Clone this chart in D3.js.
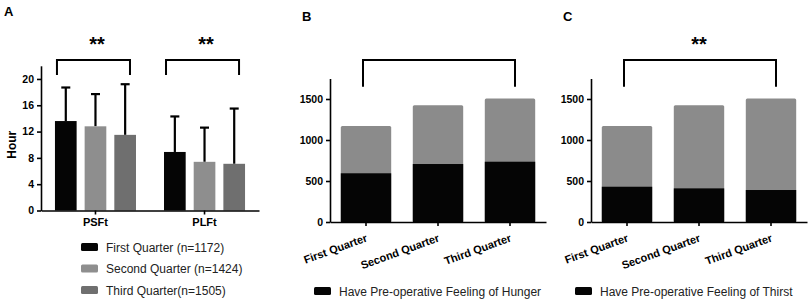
<!DOCTYPE html>
<html>
<head>
<meta charset="utf-8">
<script src="https://cdn.jsdelivr.net/npm/d3@7"></script>
<style>
  body { margin: 0; background: #fff; }
  svg { font-family: "Liberation Sans", Arial, sans-serif; }
</style>
</head>
<body>
<div id="container"></div>
<script>
/* DATA */
const groupsA = ["PSFt", "PLFt"];
const legendA = ["First Quarter (n=1172)", "Second Quarter (n=1424)", "Third Quarter(n=1505)"];
const meanPSFt = [13.6, 12.8, 11.5];
const sdPSFt = [5.1, 4.9, 7.7];
const meanPLFt = [8.9, 7.4, 7.1];
const sdPLFt = [5.4, 5.2, 8.4];
const yTicksA = [0, 4, 8, 12, 16, 20];

const quarters = ["First Quarter", "Second Quarter", "Third Quarter"];
const totals = [1172, 1424, 1505];
const hunger = [594, 707, 735];
const thirst = [430, 410, 390];
const yTicksBC = [0, 500, 1000, 1500];

/* CONSTANTS */
const width = 810, height = 301;
const colors = ["#050505", "#8e8e8e", "#6f6f6f"];

const svg = d3.select("#container").append("svg")
  .attr("width", width)
  .attr("height", height);

function styleAxis(g) {
  g.selectAll("path").attr("stroke", "#000").attr("stroke-width", 1.6);
  g.selectAll("line").attr("stroke", "#000").attr("stroke-width", 1.6);
  g.selectAll("text").attr("fill", "#000").attr("font-weight", "bold")
    .attr("font-size", 10.5).attr("font-family", "Liberation Sans, Arial, sans-serif");
}

function bracket(g, x1, x2, yTop, yBot) {
  g.append("path")
    .attr("d", `M${x1},${yBot}V${yTop}H${x2}V${yBot}`)
    .attr("fill", "none")
    .attr("stroke", "#000")
    .attr("stroke-width", 2);
}

function stars(g, x, y) {
  g.append("text")
    .attr("x", x).attr("y", y)
    .attr("text-anchor", "middle")
    .attr("font-weight", "bold")
    .attr("font-size", 20)
    .text("**");
}

/* PANEL A */
const a = svg.append("g");
const x0 = d3.scaleBand().domain(groupsA).range([41, 259])
  .paddingInner(0.257).paddingOuter(0.128);
const x1 = d3.scaleBand().domain(d3.range(3)).range([0, x0.bandwidth()]).paddingInner(0.27);
const yA = d3.scaleLinear().domain([0, 22]).range([210.5, 65.8]);

const rowsA = [
  { g: "PSFt", mean: meanPSFt, sd: sdPSFt },
  { g: "PLFt", mean: meanPLFt, sd: sdPLFt }
];

rowsA.forEach(row => {
  const grp = a.append("g").attr("transform", `translate(${x0(row.g)},0)`);
  row.mean.forEach((m, i) => {
    const cx = x1(i) + x1.bandwidth() / 2;
    grp.append("line")
      .attr("x1", cx).attr("x2", cx)
      .attr("y1", yA(m)).attr("y2", yA(m + row.sd[i]))
      .attr("stroke", "#000").attr("stroke-width", 2.2);
    grp.append("line")
      .attr("x1", cx - 4.5).attr("x2", cx + 4.5)
      .attr("y1", yA(m + row.sd[i])).attr("y2", yA(m + row.sd[i]))
      .attr("stroke", "#000").attr("stroke-width", 2.2);
    grp.append("rect")
      .attr("x", x1(i))
      .attr("y", yA(m))
      .attr("width", x1.bandwidth())
      .attr("height", yA(0) - yA(m))
      .attr("fill", colors[i]);
  });
});

a.append("g").attr("transform", "translate(41,0)")
  .call(d3.axisLeft(yA).tickValues(yTicksA).tickSize(4).tickPadding(3).tickSizeOuter(0))
  .call(styleAxis);
a.append("g").attr("transform", `translate(0,${yA(0)})`)
  .call(d3.axisBottom(x0).tickSize(4).tickPadding(4).tickSizeOuter(0))
  .call(styleAxis)
  .call(g => g.selectAll("text").attr("font-size", 11));

groupsA.forEach(gname => {
  bracket(a, x0(gname) + 2, x0(gname) + x0.bandwidth() - 6, yA(22.9), yA(20.6));
  stars(a, x0(gname) + x0.bandwidth() / 2 + 1.5, 51);
});

a.append("text").attr("x", 4).attr("y", 16)
  .attr("font-weight", "bold").attr("font-size", 13).text("A");
a.append("text")
  .attr("transform", `translate(16,${(yA(0) + yA(20)) / 2}) rotate(-90)`)
  .attr("text-anchor", "middle")
  .attr("font-weight", "bold").attr("font-size", 12)
  .text("Hour");

legendA.forEach((label, i) => {
  const ly = 247 + i * 21.5;
  a.append("rect").attr("x", 81).attr("y", ly - 4).attr("width", 17).attr("height", 8)
    .attr("rx", 1.5).attr("fill", colors[i]);
  a.append("text").attr("x", 106).attr("y", ly + 4.5)
    .attr("font-size", 12).attr("fill", "#222").text(label);
});

/* PANELS B, C */
const yBC = d3.scaleLinear().domain([0, 1750]).range([222, 78.5]);

function stackPanel(left, letter, part, legendText, withStars) {
  const g = svg.append("g");
  const x = d3.scaleBand().domain(quarters).range([left, left + 216])
    .paddingInner(0.3).paddingOuter(0.15);

  quarters.forEach((q, i) => {
    g.append("rect")
      .attr("x", x(q)).attr("y", yBC(totals[i]))
      .attr("width", x.bandwidth()).attr("height", yBC(0) - yBC(totals[i]))
      .attr("rx", 1.5)
      .attr("fill", "#8b8b8b");
    g.append("rect")
      .attr("x", x(q)).attr("y", yBC(part[i]))
      .attr("width", x.bandwidth()).attr("height", yBC(0) - yBC(part[i]))
      .attr("fill", "#050505");
  });

  g.append("g").attr("transform", `translate(${left},0)`)
    .call(d3.axisLeft(yBC).tickValues(yTicksBC).tickFormat(d3.format("d"))
      .tickSize(4).tickPadding(3).tickSizeOuter(0))
    .call(styleAxis);
  g.append("g").attr("transform", `translate(0,${yBC(0)})`)
    .call(d3.axisBottom(x).tickSize(4).tickSizeOuter(0))
    .call(styleAxis)
    .call(ax => ax.selectAll("text")
      .attr("font-size", 11)
      .attr("text-anchor", "end")
      .attr("dy", 0)
      .attr("y", 0)
      .attr("transform", "translate(2,19) rotate(-20)"));

  const c1 = x(quarters[0]) + x.bandwidth() / 2;
  const c3 = x(quarters[2]) + x.bandwidth() / 2;
  bracket(g, c1 - 3, c3 + 5, yBC(1975), yBC(1650));
  if (withStars) stars(g, (c1 + c3) / 2, 51);

  g.append("text").attr("x", left - 28).attr("y", 21)
    .attr("font-weight", "bold").attr("font-size", 13).text(letter);

  g.append("rect").attr("x", left - 16).attr("y", 287).attr("width", 17).attr("height", 8)
    .attr("rx", 1.5).attr("fill", "#050505");
  g.append("text").attr("x", left + 9).attr("y", 295.5)
    .attr("font-size", 12).attr("fill", "#222").text(legendText);
}

stackPanel(330, "B", hunger, "Have Pre-operative Feeling of Hunger", false);
stackPanel(591, "C", thirst, "Have Pre-operative Feeling of Thirst", true);
</script>
</body>
</html>
